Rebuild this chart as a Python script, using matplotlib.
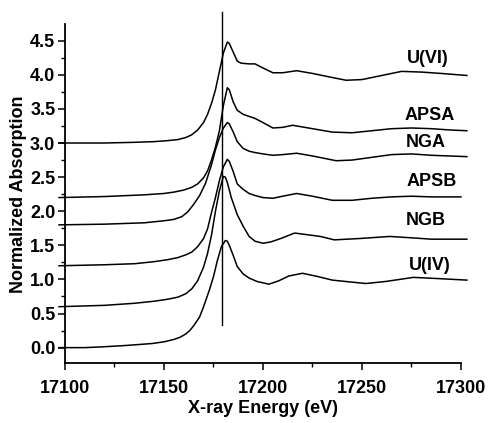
import numpy as np
import matplotlib
matplotlib.use('Agg')
from matplotlib import pyplot as plt
from matplotlib.ticker import MultipleLocator, FormatStrFormatter

plt.rcParams['font.family'] = ['Liberation Sans', 'DejaVu Sans']
plt.rcParams['font.weight'] = 'bold'

# spectra: energy (eV), normalized absorption (no offset)
e_u6 = [17097, 17120, 17135, 17145, 17152, 17157, 17161, 17164, 17167, 17170, 17172, 17174, 17176,
        17178, 17180, 17182, 17183, 17185, 17187, 17189, 17193, 17196, 17200, 17205, 17210, 17217,
        17225, 17235, 17242, 17250, 17260, 17270, 17280, 17290, 17303]
a_u6 = [0.0, 0.0, 0.01, 0.02, 0.035, 0.05, 0.08, 0.12, 0.19, 0.30, 0.42, 0.58, 0.78,
        1.05, 1.32, 1.48, 1.46, 1.33, 1.20, 1.17, 1.16, 1.16, 1.10, 1.03, 1.03, 1.06,
        1.02, 0.96, 0.92, 0.93, 0.99, 1.05, 1.04, 1.02, 0.99]

e_apsa = [17097, 17120, 17140, 17150, 17155, 17160, 17164, 17167, 17170, 17172, 17174, 17176, 17178,
          17180, 17182, 17183, 17185, 17187, 17190, 17193, 17196, 17200, 17205, 17210, 17215, 17225,
          17235, 17245, 17255, 17265, 17275, 17285, 17295, 17303]
a_apsa = [0.0, 0.015, 0.04, 0.06, 0.08, 0.11, 0.15, 0.20, 0.29, 0.39, 0.55, 0.74, 0.98,
          1.35, 1.61, 1.58, 1.40, 1.28, 1.22, 1.19, 1.16, 1.10, 1.02, 1.03, 1.06, 1.01,
          0.96, 0.95, 0.98, 1.01, 1.02, 1.01, 0.99, 0.98]

e_nga = [17097, 17120, 17140, 17150, 17155, 17159, 17162, 17165, 17168, 17171, 17174, 17176, 17178,
         17180, 17182, 17183, 17185, 17187, 17190, 17193, 17196, 17200, 17205, 17210, 17217, 17225,
         17237, 17245, 17255, 17265, 17275, 17285, 17303]
a_nga = [0.0, 0.01, 0.03, 0.06, 0.08, 0.12, 0.19, 0.30, 0.43, 0.61, 0.88, 1.10, 1.28,
         1.42, 1.50, 1.48, 1.36, 1.22, 1.12, 1.08, 1.06, 1.04, 1.02, 1.03, 1.05, 1.01,
         0.94, 0.95, 0.99, 1.03, 1.04, 1.02, 1.00]

e_apsb = [17097, 17120, 17135, 17145, 17152, 17157, 17161, 17164, 17167, 17170, 17172, 17174, 17176,
          17178, 17180, 17182, 17183, 17185, 17187, 17190, 17193, 17196, 17200, 17205, 17210, 17217,
          17225, 17235, 17245, 17255, 17265, 17275, 17285, 17300]
a_apsb = [0.0, 0.015, 0.03, 0.06, 0.09, 0.12, 0.16, 0.20, 0.28, 0.40, 0.54, 0.78, 1.00,
          1.25, 1.45, 1.56, 1.53, 1.38, 1.20, 1.12, 1.06, 1.03, 1.00, 0.99, 1.02, 1.06,
          1.02, 0.96, 0.96, 0.99, 1.01, 1.02, 1.01, 1.01]

e_ngb = [17097, 17120, 17135, 17145, 17152, 17157, 17161, 17164, 17167, 17170, 17172, 17174, 17176,
         17178, 17180, 17181, 17182, 17184, 17187, 17190, 17193, 17196, 17200, 17204, 17209, 17216,
         17229, 17236, 17249, 17264, 17275, 17285, 17303]
a_ngb = [0.0, 0.02, 0.05, 0.08, 0.11, 0.14, 0.19, 0.26, 0.38, 0.58, 0.78, 1.05, 1.40,
         1.70, 1.91, 1.90, 1.82, 1.60, 1.35, 1.18, 1.03, 0.96, 0.93, 0.95, 1.00, 1.08,
         1.03, 0.98, 1.00, 1.03, 1.01, 0.99, 0.99]

e_u4 = [17097, 17110, 17118, 17130, 17144, 17150, 17155, 17158, 17161, 17163, 17165, 17168, 17170,
        17173, 17175, 17177, 17179, 17181, 17182, 17183, 17185, 17187, 17190, 17193, 17197, 17203,
        17208, 17213, 17220, 17228, 17235, 17245, 17252, 17262, 17276, 17290, 17303]
a_u4 = [0.0, 0.0, 0.01, 0.03, 0.06, 0.085, 0.12, 0.15, 0.20, 0.25, 0.32, 0.45, 0.60,
        0.85, 1.04, 1.28, 1.48, 1.57, 1.56, 1.50, 1.35, 1.19, 1.08, 1.02, 0.97, 0.93,
        0.98, 1.05, 1.09, 1.04, 0.99, 0.96, 0.94, 0.97, 1.03, 1.01, 0.99]

names = ['U(VI)', 'APSA', 'NGA', 'APSB', 'NGB', 'U(IV)']
offsets = [3.0, 2.2, 1.8, 1.2, 0.6, 0.0]
energies = [e_u6, e_apsa, e_nga, e_apsb, e_ngb, e_u4]
spectra = [a_u6, a_apsa, a_nga, a_apsb, a_ngb, a_u4]
label_x = [17283, 17284, 17282, 17285, 17282, 17284]
label_y = [4.24, 3.41, 3.01, 2.44, 1.86, 1.21]

edge_e = 17179.4
edge_y = [0.33, 4.92]

fig = plt.figure(figsize=(4.93, 4.23), dpi=100)
ax = fig.add_axes([0.1318, 0.1411, 0.8032, 0.8014])

for e, a, off in zip(energies, spectra, offsets):
    ax.plot(e, np.array(a) + off, color='black', lw=1.1, clip_on=False)

ax.plot([edge_e, edge_e], edge_y, color='black', lw=1.0, clip_on=False)

for n, lx, ly in zip(names, label_x, label_y):
    ax.text(lx, ly, n, ha='center', va='center', fontsize=13, fontweight='bold')

ax.set_xlim(17100, 17300)
ax.set_ylim(-0.23, 4.74)
ax.spines['top'].set_visible(False)
ax.spines['right'].set_visible(False)
for s in ['left', 'bottom']:
    ax.spines[s].set_linewidth(1.3)

ax.xaxis.set_major_locator(MultipleLocator(50))
ax.xaxis.set_minor_locator(MultipleLocator(25))
ax.yaxis.set_major_locator(MultipleLocator(0.5))
ax.yaxis.set_minor_locator(MultipleLocator(0.25))
ax.yaxis.set_major_formatter(FormatStrFormatter('%.1f'))
ax.tick_params(which='major', length=5, width=1.1, labelsize=13)
ax.tick_params(axis='x', which='major', pad=7)
ax.tick_params(axis='y', which='major', pad=2)
ax.tick_params(which='minor', length=3, width=1.0)

ax.set_xlabel('X-ray Energy (eV)', fontsize=13, fontweight='bold', labelpad=2)
ax.set_ylabel('Normalized Absorption', fontsize=13, fontweight='bold', labelpad=2)

fig.savefig('out.png', dpi=100)
